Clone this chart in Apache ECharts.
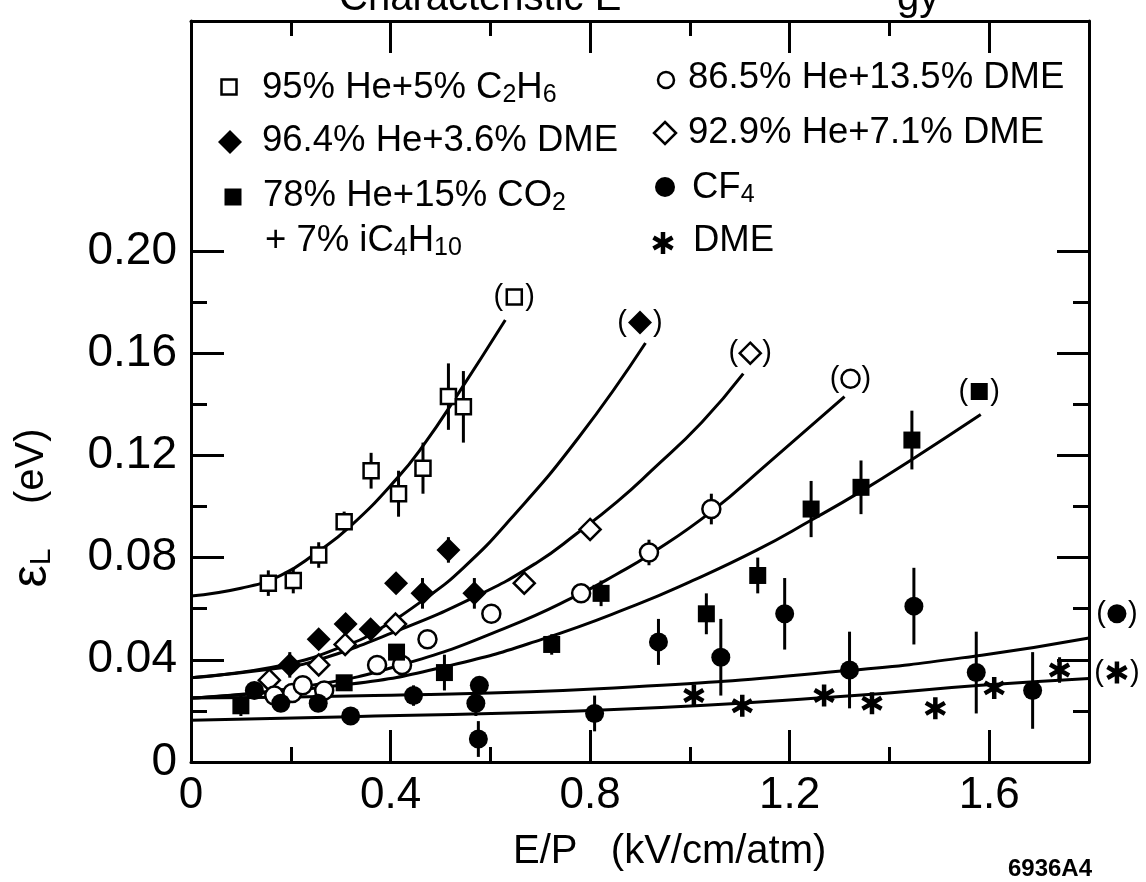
<!DOCTYPE html>
<html><head><meta charset="utf-8">
<script src="https://cdn.jsdelivr.net/npm/echarts@6/dist/echarts.min.js"></script>
<style>html,body{margin:0;padding:0;background:#fff}#c{width:1146px;height:882px}</style>
</head><body><div id="c"></div>
<script>
// ---------- axis ticks / labels ----------
const xTicksMajor = [0.4, 0.8, 1.2, 1.6];
const xTicksMinor = [0.2, 0.6, 1.0, 1.4];
const xTickLabels = [0, 0.4, 0.8, 1.2, 1.6];
const yTicksMajor = [0.04, 0.08, 0.12, 0.16, 0.20];
const yTicksMinor = [0.02, 0.06, 0.10, 0.14, 0.18];
const yTickLabels = [0, 0.04, 0.08, 0.12, 0.16, 0.20];

// ---------- 95% He + 5% C2H6 (open squares) ----------
const c2h6X   = [0.155, 0.205, 0.256, 0.307, 0.361, 0.416, 0.465, 0.516, 0.546];
const c2h6Y   = [0.070, 0.071, 0.081, 0.094, 0.114, 0.105, 0.115, 0.143, 0.139];
const c2h6Err = [0.005, 0.005, 0.005, 0.004, 0.007, 0.009, 0.010, 0.013, 0.014];
const c2h6FitX = [0, 0.10, 0.18, 0.252, 0.318, 0.413, 0.466, 0.535, 0.63];
const c2h6FitY = [0.065, 0.068, 0.073, 0.082, 0.092, 0.111, 0.124, 0.144, 0.173];
const c2h6Tag = [0.648, 0.182];

// ---------- 96.4% He + 3.6% DME (filled diamonds) ----------
const dme36X   = [0.198, 0.256, 0.310, 0.360, 0.411, 0.464, 0.516, 0.568];
const dme36Y   = [0.038, 0.048, 0.054, 0.052, 0.070, 0.066, 0.083, 0.066];
const dme36Err = [0.005, 0, 0, 0, 0, 0.006, 0.005, 0.006];
const dme36FitX = [0, 0.186, 0.315, 0.369, 0.47, 0.546, 0.64, 0.777, 0.911];
const dme36FitY = [0.033, 0.038, 0.046, 0.051, 0.064, 0.076, 0.095, 0.127, 0.164];
const dme36Tag = [0.90, 0.172];

// ---------- 92.9% He + 7.1% DME (open diamonds) ----------
const dme71X   = [0.157, 0.256, 0.309, 0.410, 0.668, 0.800];
const dme71Y   = [0.032, 0.038, 0.046, 0.054, 0.070, 0.091];
const dme71Err = [0, 0, 0, 0, 0, 0];
const dme71FitX = [0, 0.186, 0.248, 0.403, 0.571, 0.693, 0.774, 0.855, 0.923, 1.024, 1.107];
const dme71FitY = [0.033, 0.037, 0.0395, 0.0505, 0.0648, 0.078, 0.0895, 0.102, 0.114, 0.133, 0.152];
const dme71Tag = [1.121, 0.160];

// ---------- 86.5% He + 13.5% DME (open circles) ----------
const dme135X   = [0.167, 0.203, 0.224, 0.267, 0.373, 0.423, 0.474, 0.602, 0.782, 0.918, 1.043];
const dme135Y   = [0.026, 0.027, 0.030, 0.028, 0.038, 0.038, 0.048, 0.058, 0.066, 0.082, 0.099];
const dme135Err = [0, 0, 0, 0, 0, 0, 0, 0, 0, 0.005, 0.006];
const dme135FitX = [0, 0.234, 0.435, 0.637, 0.782, 0.853, 0.918, 1.043, 1.157, 1.31];
const dme135FitY = [0.025, 0.0298, 0.0388, 0.0530, 0.066, 0.0735, 0.081, 0.098, 0.1170, 0.143];
const dme135Tag = [1.322, 0.150];

// ---------- 78% He + 15% CO2 + 7% iC4H10 (filled squares) ----------
const co2X   = [0.100, 0.307, 0.412, 0.508, 0.723, 0.822, 1.033, 1.136, 1.243, 1.343, 1.445];
const co2Y   = [0.022, 0.031, 0.043, 0.035, 0.046, 0.066, 0.058, 0.073, 0.099, 0.1075, 0.126];
const co2Err = [0.004, 0, 0.003, 0.007, 0.004, 0.005, 0.008, 0.007, 0.011, 0.0105, 0.0115];
const co2FitX = [0, 0.32, 0.522, 0.703, 0.892, 1.0, 1.135, 1.242, 1.344, 1.446, 1.583];
const co2FitY = [0.025, 0.0305, 0.0379, 0.0480, 0.0615, 0.0705, 0.0830, 0.0945, 0.106, 0.1185, 0.136];
const co2Tag = [1.58, 0.145];

// ---------- CF4 (filled circles) ----------
const cf4X   = [0.127, 0.180, 0.255, 0.320, 0.446, 0.571, 0.576, 0.578, 0.809, 0.937, 1.062, 1.190, 1.320, 1.449, 1.574, 1.687];
const cf4Y   = [0.028, 0.023, 0.023, 0.018, 0.026, 0.023, 0.009, 0.030, 0.019, 0.047, 0.041, 0.058, 0.036, 0.061, 0.035, 0.028];
const cf4Err = [0, 0, 0.003, 0, 0.004, 0.005, 0.007, 0, 0.007, 0.009, 0.015, 0.014, 0.015, 0.015, 0.016, 0.015];
const cf4FitX = [0, 0.367, 0.848, 1.317, 1.585, 1.8];
const cf4FitY = [0.025, 0.026, 0.0290, 0.0358, 0.0418, 0.0485];
const cf4Tag = [1.856, 0.058];

// ---------- DME (asterisks) ----------
const dmeX   = [1.008, 1.105, 1.269, 1.365, 1.492, 1.610, 1.741];
const dmeY   = [0.026, 0.022, 0.026, 0.023, 0.021, 0.029, 0.036];
const dmeErr = [0.004, 0, 0, 0, 0, 0, 0.005];
const dmeFitX = [0, 0.32, 0.848, 1.316, 1.583, 1.8];
const dmeFitY = [0.0163, 0.0177, 0.0205, 0.0258, 0.030, 0.0327];
const dmeTag = [1.856, 0.035];

// ---------- styling ----------
const FONT = '"Liberation Sans", Arial, Helvetica, sans-serif';
const ASTER = 'path://M10,0L10,20M1.34,5L18.66,15M1.34,15L18.66,5';
const OPEN = {color:'#fff', borderColor:'#000', borderWidth:2.5, opacity:1};
const FILL = {color:'#000', borderColor:'#000', borderWidth:0, opacity:1};
const mkOpenSquare  = {symbol:'rect', size:15, item:OPEN, gap:22};
const mkFillDiamond = {symbol:'diamond', size:24, item:FILL, gap:26};
const mkOpenDiamond = {symbol:'diamond', size:21, item:OPEN, gap:24};
const mkOpenCircle  = {symbol:'circle', size:18, item:OPEN, gap:22};
const mkFillSquare  = {symbol:'rect', size:17, item:FILL, gap:22};
const mkFillCircle  = {symbol:'circle', size:19, item:FILL, gap:22};
const mkAster       = {symbol:ASTER, size:22, item:{color:'#000', borderColor:'#000', borderWidth:4.5, opacity:1}, gap:26};

function buildGroup(xs, ys, errs, fitX, fitY, tag, mk) {
  const out = [];
  out.push({type:'line', data: fitX.map((x,i)=>[x, fitY[i]]), symbol:'none', showSymbol:false,
    smooth:0.5, lineStyle:{color:'#000', width:3}, z:2, silent:true});
  const ed = [];
  xs.forEach((x,i)=>{ if (errs[i] > 0) ed.push([x, ys[i]-errs[i], ys[i]+errs[i]]); });
  out.push({type:'custom', data: ed, encode:{x:0, y:[1,2]}, z:3, silent:true,
    renderItem:(p, api)=>{
      const a = api.coord([api.value(0), api.value(1)]);
      const b = api.coord([api.value(0), api.value(2)]);
      return {type:'line', shape:{x1:a[0], y1:a[1], x2:b[0], y2:b[1]}, style:{stroke:'#000', lineWidth:3}};
    }});
  out.push({type:'scatter', data: xs.map((x,i)=>[x, ys[i]]), symbol:mk.symbol, symbolSize:mk.size,
    symbolKeepAspect:true, itemStyle:mk.item, z:4, silent:true});
  out.push({type:'scatter', data:[tag], symbol:mk.symbol, symbolSize:mk.size, symbolKeepAspect:true,
    itemStyle:mk.item, z:4, clip:false, silent:true,
    label:{show:true, position:'inside', formatter:'{p|(}{g|}{p|)}',
      rich:{p:{fontSize:29, fontFamily:FONT, color:'#000'}, g:{width:mk.gap}}}});
  return out;
}

const series = [].concat(
  buildGroup(c2h6X, c2h6Y, c2h6Err, c2h6FitX, c2h6FitY, c2h6Tag, mkOpenSquare),
  buildGroup(dme36X, dme36Y, dme36Err, dme36FitX, dme36FitY, dme36Tag, mkFillDiamond),
  buildGroup(dme71X, dme71Y, dme71Err, dme71FitX, dme71FitY, dme71Tag, mkOpenDiamond),
  buildGroup(dme135X, dme135Y, dme135Err, dme135FitX, dme135FitY, dme135Tag, mkOpenCircle),
  buildGroup(co2X, co2Y, co2Err, co2FitX, co2FitY, co2Tag, mkFillSquare),
  buildGroup(cf4X, cf4Y, cf4Err, cf4FitX, cf4FitY, cf4Tag, mkFillCircle),
  buildGroup(dmeX, dmeY, dmeErr, dmeFitX, dmeFitY, dmeTag, mkAster)
);

function xAx(pos, ticks, len, showLine, labels) {
  return {type:'value', min:0, max:1.8, position:pos,
    axisLine:{show:showLine, onZero:false, lineStyle:{color:'#000', width:3}},
    axisTick:{show:true, inside:true, length:len, customValues:ticks, lineStyle:{color:'#000', width:3}},
    axisLabel: labels ? {show:true, customValues:labels, margin:12, color:'#000', fontSize:44, fontFamily:FONT,
      formatter:v=> v === 0 ? '0' : String(+v.toFixed(1))} : {show:false},
    splitLine:{show:false}, minorTick:{show:false}};
}
function yAx(pos, ticks, len, showLine, labels) {
  return {type:'value', min:0, max:0.29, position:pos,
    axisLine:{show:showLine, onZero:false, lineStyle:{color:'#000', width:3}},
    axisTick:{show:true, inside:true, length:len, customValues:ticks, lineStyle:{color:'#000', width:3}},
    axisLabel: labels ? {show:true, customValues:labels, margin:14, color:'#000', fontSize:46, fontFamily:FONT,
      formatter:v=> v === 0 ? '0' : v.toFixed(2)} : {show:false},
    splitLine:{show:false}, minorTick:{show:false}};
}

function lText(x, baseline, text) {
  return {type:'text', x:x, y:baseline - 33, z:10,
    style:{text:text, fill:'#000', fontSize:36.5, fontFamily:FONT, lineHeight:41, verticalAlign:'top', align:'left',
      rich:{s:{fontSize:25, lineHeight:25, verticalAlign:'bottom', fontFamily:FONT, fill:'#000'}}}};
}
function asterGraphic(cx, cy, r) {
  const c = Math.cos(Math.PI/6) * r, s = 0.5 * r;
  const st = {stroke:'#000', lineWidth:4.5};
  return {type:'group', children:[
    {type:'line', shape:{x1:cx, y1:cy-r, x2:cx, y2:cy+r}, style:st},
    {type:'line', shape:{x1:cx-c, y1:cy-s, x2:cx+c, y2:cy+s}, style:st},
    {type:'line', shape:{x1:cx-c, y1:cy+s, x2:cx+c, y2:cy-s}, style:st}
  ]};
}

const graphic = [
  // title (cropped at the top edge of the scan)
  {type:'text', x:339, y:-1, style:{text:'Characteristic E', fill:'#000', fontSize:40, fontFamily:FONT, verticalAlign:'middle'}},
  {type:'text', x:897, y:-1, style:{text:'gy', fill:'#000', fontSize:40, fontFamily:FONT, verticalAlign:'middle'}},
  // legend, left column
  {type:'rect', shape:{x:221.5, y:79.5, width:15, height:15}, style:{fill:'#fff', stroke:'#000', lineWidth:2.5}},
  lText(262, 100, '95% He+5% C{s|2}H{s|6}'),
  {type:'polygon', shape:{points:[[230,130],[242,142],[230,154],[218,142]]}, style:{fill:'#000'}},
  lText(262, 153, '96.4% He+3.6% DME'),
  {type:'rect', shape:{x:224.5, y:188.5, width:17, height:17}, style:{fill:'#000'}},
  lText(263, 208, '78% He+15% CO{s|2}'),
  lText(265, 253, '+ 7% iC{s|4}H{s|10}'),
  // legend, right column
  {type:'circle', shape:{cx:666, cy:80, r:8}, style:{fill:'#fff', stroke:'#000', lineWidth:2.5}},
  lText(688, 90, '86.5% He+13.5% DME'),
  {type:'polygon', shape:{points:[[665,122],[676,133],[665,144],[654,133]]}, style:{fill:'#fff', stroke:'#000', lineWidth:2.5}},
  lText(688, 145, '92.9% He+7.1% DME'),
  {type:'circle', shape:{cx:665, cy:187, r:10}, style:{fill:'#000'}},
  lText(692, 200, 'CF{s|4}'),
  asterGraphic(663, 243, 11),
  lText(693, 253, 'DME'),
  // axis names
  {type:'text', x:513, y:852, style:{text:'E/P   (kV/cm/atm)', fill:'#000', fontSize:40, fontFamily:FONT, verticalAlign:'middle', align:'left'}},
  {type:'text', x:32, y:508, rotation:Math.PI/2,
    style:{text:'{e|ε}{l|L}    (eV)', fill:'#000', fontSize:40, fontFamily:FONT, verticalAlign:'middle', align:'center',
      rich:{e:{fontSize:50, fontFamily:FONT, fill:'#000'}, l:{fontSize:30, fontFamily:FONT, fill:'#000', verticalAlign:'bottom', lineHeight:30}}}},
  // figure id
  {type:'text', x:1092, y:869, style:{text:'6936A4', fill:'#000', fontSize:24, fontWeight:'bold', fontFamily:FONT, verticalAlign:'middle', align:'right'}}
];

const option = {
  animation:false,
  backgroundColor:'#fff',
  grid:{left:191, top:21, width:898, height:741, containLabel:false, outerBoundsMode:'none'},
  xAxis:[
    xAx('bottom', xTicksMajor, 32, true, xTickLabels),
    xAx('bottom', xTicksMinor, 15, false, null),
    xAx('top', xTicksMajor, 32, true, null),
    xAx('top', xTicksMinor, 15, false, null)
  ],
  yAxis:[
    yAx('left', yTicksMajor, 33, true, yTickLabels),
    yAx('left', yTicksMinor, 16, false, null),
    yAx('right', yTicksMajor, 32, true, null),
    yAx('right', yTicksMinor, 16, false, null)
  ],
  series: series,
  graphic: graphic
};

const chart = echarts.init(document.getElementById('c'), null, {renderer:'canvas'});
chart.setOption(option);
</script></body></html>
